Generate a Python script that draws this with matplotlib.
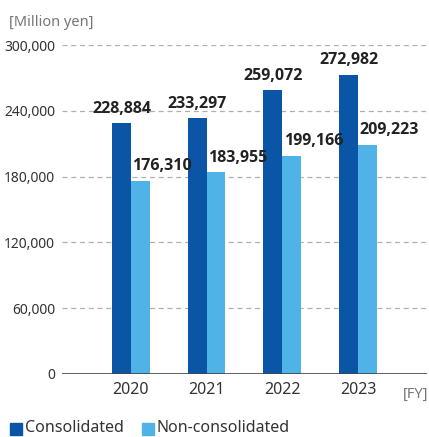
import matplotlib.pyplot as plt
import numpy as np

plt.rcParams['font.family'] = ['Noto Sans', 'DejaVu Sans']

# data
years = ['2020', '2021', '2022', '2023']
consolidated = [228884, 233297, 259072, 272982]
non_consolidated = [176310, 183955, 199166, 209223]
yticks = [0, 60000, 120000, 180000, 240000, 300000]

dark = '#0A55A6'
light = '#4FB3E8'
text_c = '#333333'
grey = '#777777'

fig = plt.figure(figsize=(4.29, 4.37), dpi=100)
ax = fig.add_axes([0.1445, 0.1442, 0.8505, 0.7528])

x = np.arange(len(years))
w = 0.25
ax.bar(x - w / 2, consolidated, w, color=dark, zorder=3)
ax.bar(x + w / 2, non_consolidated, w, color=light, zorder=3)

bold = dict(fontsize=11.5, fontweight='bold', color='#222222', family=['Open Sans', 'DejaVu Sans'])
for xi, v in zip(x, consolidated):
    ax.annotate(f'{v:,}', (xi - w / 2, v), xytext=(0, 4.5), textcoords='offset points',
                ha='center', va='bottom', **bold)
for xi, v in zip(x, non_consolidated):
    ax.annotate(f'{v:,}', (xi, v), xytext=(1, 4.5), textcoords='offset points',
                ha='left', va='bottom', **bold)

ax.set_ylim(0, 300000)
ax.set_xlim(-0.91, 3.91)
ax.set_yticks(yticks)
ax.set_yticklabels([f'{t:,}' for t in yticks], fontsize=10, color=text_c)
ax.set_xticks(x)
ax.set_xticklabels(years, fontsize=11.5, color=text_c)
ax.tick_params(length=0, pad=6)
ax.tick_params(axis='y', pad=5)

for t in yticks[1:]:
    ax.axhline(t, color='#b0b0b0', lw=0.9, ls=(0, (4, 3)), zorder=1)
ax.axhline(0, color='#444444', lw=1.2, zorder=4)

for s in ax.spines.values():
    s.set_visible(False)

fig.text(9 / 429, 1 - 22 / 437, '[Million yen]', fontsize=10.5, color=grey, va='center', ha='left')
fig.text(428 / 429, 1 - 394 / 437, '[FY]', fontsize=10.5, color=grey, va='center', ha='right')

# legend
fig.patches.append(plt.Rectangle((10 / 429, 1 - 435 / 437), 12 / 429, 12 / 437,
                                 transform=fig.transFigure, color=dark))
fig.text(25 / 429, 1 - 428 / 437, 'Consolidated', fontsize=11.5, color=text_c, va='center')
fig.patches.append(plt.Rectangle((142 / 429, 1 - 435 / 437), 12 / 429, 12 / 437,
                                 transform=fig.transFigure, color=light))
fig.text(156 / 429, 1 - 428 / 437, 'Non-consolidated', fontsize=11.5, color=text_c, va='center')

fig.savefig('out.png', dpi=100)
